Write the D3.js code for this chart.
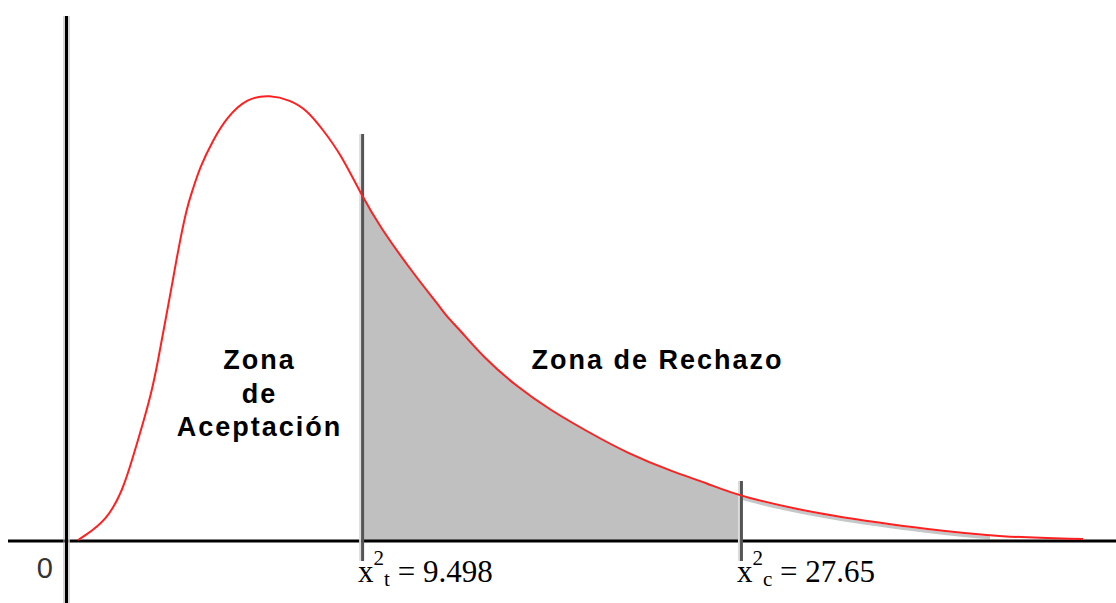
<!DOCTYPE html>
<html><head>
<meta charset="utf-8">
<script src="https://d3js.org/d3.v7.min.js"></script>
<style>
  body { margin: 0; background: #fff; }
  .zona { font-family: Arial, "Liberation Sans", sans-serif; font-weight: bold; font-size: 27px; letter-spacing: 2px; fill: #000; }
  .crit { font-family: "Times New Roman", "Liberation Serif", serif; font-size: 31px; fill: #000; }
  .zero { font-family: Arial, "Liberation Sans", sans-serif; font-size: 29px; fill: #333; }
</style>
</head>
<body>
<svg id="chart" width="1116" height="603"></svg>
<script>

// curve (schematic chi-square density, arbitrary units)
const curveX = [0.57, 0.81, 1.95, 2.71, 3.19, 3.67, 4.10, 4.38, 4.71, 5.05, 5.33, 5.76, 6.00, 6.38, 7.00,
                7.67, 8.62, 9.71, 10.67, 11.48, 12.24, 13.05, 14.10, 14.95, 16.52, 17.81, 18.19, 18.76,
                19.86, 21.48, 23.05, 24.95, 26.71, 28.90, 30.52, 32.10, 36.52, 41.29, 44.48, 48.43];
const curveY = [0.2, 0.8, 4.2, 10.2, 16.8, 23.6, 30.2, 36.0, 43.6, 51.2, 58.0, 66.8, 69.8, 74.8, 80.2,
                84.8, 88.6, 89.2, 88.2, 86.2, 82.2, 77.6, 69.0, 62.8, 53.6, 46.8, 44.6, 42.2,
                36.8, 30.8, 26.2, 21.6, 17.6, 13.8, 11.6, 8.8, 4.8, 2.2, 0.8, 0.4];

// critical values: where the line sits, its subscript and the printed value
const critPos = [14.1, 32.14];
const critSub = ["t", "c"];
const critVal = ["9.498", "27.65"];
const critTop = [69.0 + 12.4, 8.8 + 3.2];   // line tops, above the curve

const zoneLines = [["Zona", "de", "Aceptación"], ["Zona de Rechazo"]];
const zoneCenter = [9.17, 28.12];

const svg = d3.select("#chart");
const width = +svg.attr("width");
const height = +svg.attr("height");

const x = d3.scaleLinear().domain([0, 50]).range([66, 1116]);
const y = d3.scaleLinear().domain([0, 100]).range([541, 41]);

const pts = curveX.map((d, i) => ({x: d, y: curveY[i]}));

const line = d3.line().x(d => x(d.x)).y(d => y(d.y)).curve(d3.curveBasis);
const area = d3.area().x(d => x(d.x)).y0(y(0)).y1(d => y(d.y)).curve(d3.curveBasis);

const defs = svg.append("defs");
defs.append("clipPath").attr("id", "rej")
  .append("rect")
  .attr("x", x(critPos[0])).attr("y", 0)
  .attr("width", x(critPos[1]) - x(critPos[0])).attr("height", height);
defs.append("clipPath").attr("id", "tail")
  .append("rect")
  .attr("x", x(critPos[1])).attr("y", 0)
  .attr("width", x(44) - x(critPos[1])).attr("height", height);

// shaded rejection zone
svg.append("path")
  .datum(pts)
  .attr("d", area)
  .attr("fill", "#c0c0c0")
  .attr("clip-path", "url(#rej)");

// thin grey leftover under the tail
svg.append("path")
  .datum(pts)
  .attr("d", line)
  .attr("fill", "none")
  .attr("stroke", "#c4c8c8")
  .attr("stroke-width", 3)
  .attr("transform", "translate(0,2.5)")
  .attr("clip-path", "url(#tail)");

// axes
svg.append("line")
  .attr("x1", 8).attr("x2", width)
  .attr("y1", y(0)).attr("y2", y(0))
  .attr("stroke", "#000").attr("stroke-width", 3);
svg.append("line")
  .attr("x1", x(0) + 0.5).attr("x2", x(0) + 0.5)
  .attr("y1", y(105)).attr("y2", height)
  .attr("stroke", "#000").attr("stroke-width", 3);
svg.append("line")
  .attr("x1", x(0) - 2).attr("x2", x(0) - 2)
  .attr("y1", y(105)).attr("y2", height)
  .attr("stroke", "#aaa").attr("stroke-width", 1);
svg.append("line")
  .attr("x1", x(0) + 3).attr("x2", x(0) + 3)
  .attr("y1", y(105)).attr("y2", height)
  .attr("stroke", "#ccc").attr("stroke-width", 1.5);

// critical value lines
critPos.forEach((p, i) => {
  svg.append("line")
    .attr("x1", x(p) - 2).attr("x2", x(p) - 2)
    .attr("y1", y(critTop[i])).attr("y2", y(-4))
    .attr("stroke", "#ddd").attr("stroke-width", 2);
  svg.append("line")
    .attr("x1", x(p) + 0.5).attr("x2", x(p) + 0.5)
    .attr("y1", y(critTop[i])).attr("y2", y(-4))
    .attr("stroke", "#555").attr("stroke-width", 3);
});

// red density curve
svg.append("path")
  .datum(pts)
  .attr("d", line)
  .attr("fill", "none")
  .attr("stroke", "#ff2020")
  .attr("stroke-width", 2);

// labels
svg.append("text").attr("class", "zero")
  .attr("x", 53).attr("y", 578)
  .attr("text-anchor", "end")
  .text("0");

critPos.forEach((p, i) => {
  const t = svg.append("text").attr("class", "crit")
    .attr("x", x(p) - 4).attr("y", 582);
  t.append("tspan").text("x");
  t.append("tspan").attr("font-size", 21).attr("dy", -17).text("2");
  t.append("tspan").attr("font-size", 21).attr("dy", 21).text(critSub[i]);
  t.append("tspan").attr("dy", -4).text(" = " + critVal[i]);
});

zoneLines.forEach((lines, i) => {
  lines.forEach((s, j) => {
    svg.append("text").attr("class", "zona")
      .attr("x", x(zoneCenter[i]) + 1).attr("y", 369 + j * 33.5)
      .attr("text-anchor", "middle")
      .text(s);
  });
});

</script>
</body>
</html>
